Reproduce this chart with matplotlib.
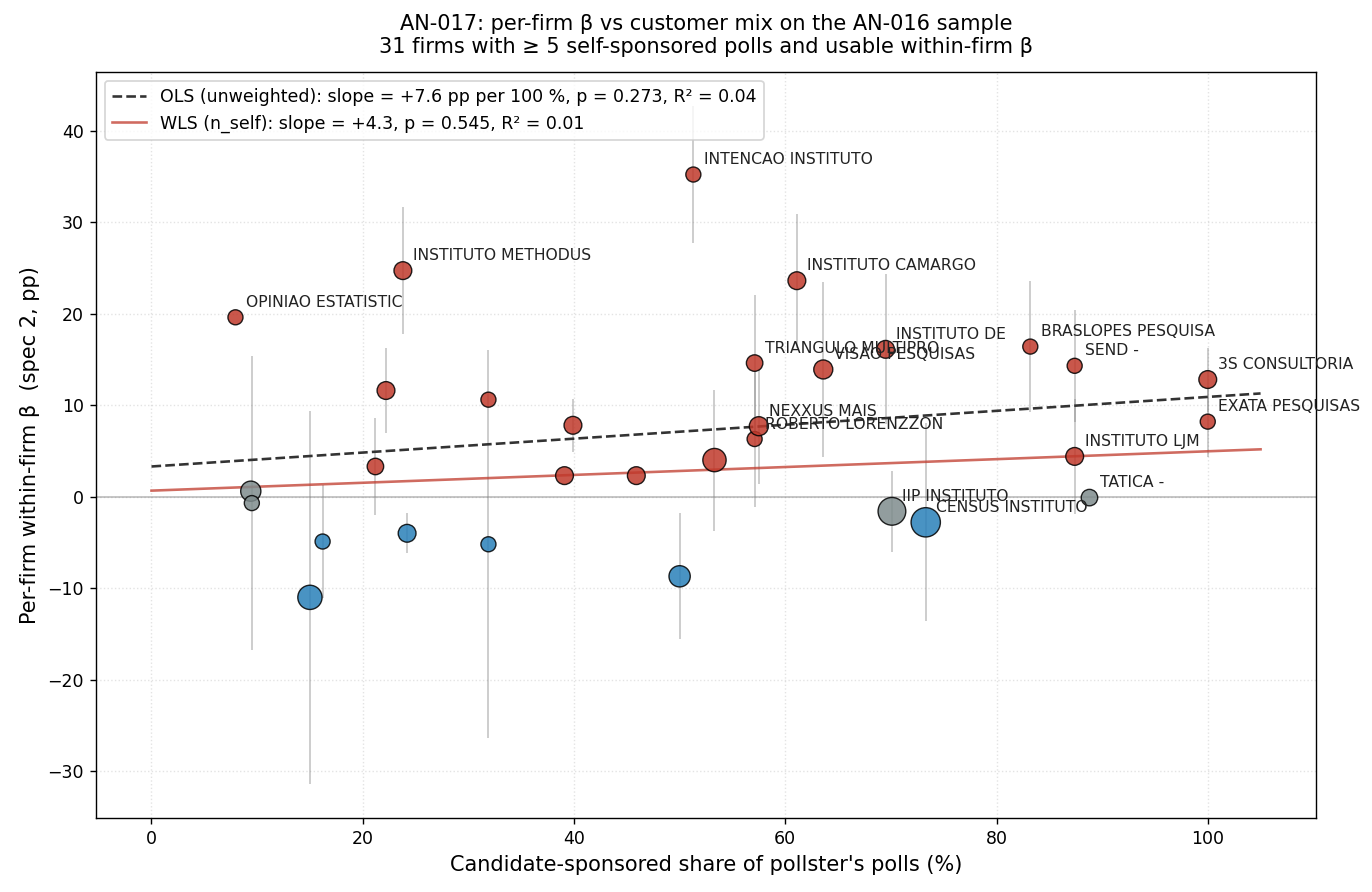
import numpy as np
import matplotlib
matplotlib.use("Agg")
import matplotlib.pyplot as plt

# per-firm data
firm = ["OPINIAO ESTATISTIC", "", "", "", "", "", "", "INSTITUTO METHODUS", "", "",
        "", "", "", "", "", "INTENCAO INSTITUTO", "", "TRIANGULO MULTIPRO", "ROBERTO LORENZZON", "NEXXUS MAIS",
        "INSTITUTO CAMARGO", "VISAO PESQUISAS", "INSTITUTO DE", "IIP INSTITUTO", "CENSUS INSTITUTO",
        "BRASLOPES PESQUISA", "SEND -", "INSTITUTO LJM", "TATICA -", "3S CONSULTORIA", "EXATA PESQUISAS"]
share = [7.95, 9.4, 9.5, 15.0, 16.2, 21.2, 22.2, 23.8, 24.2, 31.9,
         31.9, 39.1, 39.9, 45.9, 50.0, 51.3, 53.3, 57.1, 57.1, 57.5,
         61.1, 63.6, 69.5, 70.1, 73.3, 83.2, 87.4, 87.4, 88.8, 100.0, 100.0]
beta = [19.6, 0.6, -0.7, -11.0, -4.9, 3.3, 11.6, 24.7, -4.0, 10.6,
        -5.2, 2.3, 7.8, 2.3, -8.7, 35.2, 4.0, 14.6, 6.3, 7.7,
        23.6, 13.9, 16.1, -1.6, -2.8, 16.4, 14.3, 4.4, -0.1, 12.8, 8.2]
ci_half = [np.nan, np.nan, 16.1, 20.4, 6.2, 5.3, 4.6, 6.9, 2.2, np.nan,
           21.2, np.nan, 2.9, np.nan, 6.9, 7.5, 7.7, 7.4, 7.4, 6.3,
           7.3, 9.6, 8.2, 4.4, 10.8, 7.2, 6.1, 6.3, np.nan, 3.5, 3.9]
n_self = [5, 9, 5, 13, 5, 6, 7, 7, 7, 5,
          5, 7, 7, 7, 10, 5, 12, 6, 5, 8,
          7, 8, 7, 17, 19, 5, 5, 7, 6, 7, 5]

# fitted lines (intercept, slope per pp of share)
ols_a, ols_b = 3.3, 0.076
wls_a, wls_b = 0.66, 0.043
x_fit = np.linspace(0, 105, 50)

share = np.array(share)
beta = np.array(beta)
ci_half = np.array(ci_half)
n_self = np.array(n_self)

cols = []
for b in beta:
    if abs(b) < 2:
        cols.append("#7f8c8d")
    elif b > 0:
        cols.append("#c0392b")
    else:
        cols.append("#2980b9")

fig, ax = plt.subplots(figsize=(10.976, 7.136), dpi=125)
fig.subplots_adjust(left=0.070, right=0.9592, top=0.9193, bottom=0.0830)

ax.grid(True, linestyle=":", alpha=0.35)
ax.axhline(0, color="gray", lw=1, alpha=0.5)
ax.errorbar(share, beta, yerr=ci_half, fmt="none", ecolor="gray", elinewidth=1.1, alpha=0.4, zorder=2)
ax.scatter(share, beta, s=n_self * 15, c=cols, alpha=0.85, edgecolors="black", linewidths=0.8, zorder=3)

ax.plot(x_fit, ols_a + ols_b * x_fit, "--", color="#333333", lw=1.5,
        label="OLS (unweighted): slope = +7.6 pp per 100 %, p = 0.273, R² = 0.04")
ax.plot(x_fit, wls_a + wls_b * x_fit, "-", color="#c0392b", alpha=0.75, lw=1.5,
        label="WLS (n_self): slope = +4.3, p = 0.545, R² = 0.01")

for i in range(len(firm)):
    if firm[i]:
        ax.annotate(firm[i], (share[i], beta[i]), xytext=(6, 6), textcoords="offset points",
                    fontsize=9, color="#222222")

ax.tick_params(labelsize=10)
ax.set_xlabel("Candidate-sponsored share of pollster's polls (%)", fontsize=12)
ax.set_ylabel("Per-firm within-firm β  (spec 2, pp)", fontsize=12)
ax.set_title("AN-017: per-firm β vs customer mix on the AN-016 sample\n"
             "31 firms with ≥ 5 self-sponsored polls and usable within-firm β", fontsize=12, pad=11)
ax.legend(loc="upper left", fontsize=10)

plt.savefig("out.png", dpi=125)
